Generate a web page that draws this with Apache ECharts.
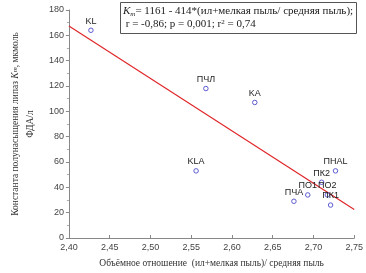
<!DOCTYPE html>
<html>
<head>
<meta charset="utf-8">
<script src="https://cdn.jsdelivr.net/npm/echarts@6/dist/echarts.min.js"></script>
<style>
  html, body { margin: 0; padding: 0; background: #fff; }
  #main { width: 366px; height: 273px; }
</style>
</head>
<body>
<div id="main"></div>
<script>
  // образцы: подписи и значения
  var names = ['KL', 'ПЧЛ', 'KA', 'KLA', 'ПЧА', 'ПО1', 'ПО2', 'ПК1', 'ПК2', 'ПНAL']
  var ratio = [2.427, 2.568, 2.628, 2.556, 2.676, 2.693, 2.717, 2.721, 2.710, 2.727]
  var km = [164, 118, 107, 53, 29, 34, 34, 26, 44, 53]
  // регрессия Km = 1161 - 414*x
  var intercept = 1161
  var slope = -414
  var lineX = [2.40, 2.75]

  var chart = echarts.init(document.getElementById('main'))

  var pts = names.map(function (n, i) {
    return { name: n, value: [ratio[i], km[i]] }
  })
  var fit = lineX.map(function (x) { return [x, intercept + slope * x] })

  var fmt = function (v) { return v.toFixed(2).replace('.', ',') }

  chart.setOption({
    animation: false,
    grid: { left: 52, right: 11, top: 10, bottom: 32 },
    title: {
      text: '{k|K}{s|m}= 1161 - 414*(ил+мелкая пыль/ средняя пыль);\n r = -0,86; p = 0,001; r{sup|2} = 0,74',
      left: 120,
      top: 2,
      padding: [3, 4, 3, 3],
      borderColor: '#555',
      borderWidth: 1,
      backgroundColor: '#fff',
      textStyle: {
        fontFamily: 'Liberation Serif',
        fontSize: 11,
        fontWeight: 'normal',
        color: '#222',
        lineHeight: 13,
        rich: {
          k: { fontFamily: 'Liberation Serif', fontStyle: 'italic', fontSize: 11, color: '#222' },
          s: { fontFamily: 'Liberation Serif', fontStyle: 'italic', fontSize: 7, color: '#222', verticalAlign: 'bottom', padding: [4, 0, 0, 0] },
          sup: { fontFamily: 'Liberation Serif', fontSize: 7, color: '#222', padding: [0, 0, 5, 0] }
        }
      }
    },
    xAxis: {
      type: 'value',
      min: 2.40,
      max: 2.75,
      interval: 0.05,
      name: 'Объёмное отношение  (ил+мелкая пыль)/ средняя пыль',
      nameLocation: 'middle',
      nameGap: 20,
      nameTextStyle: { fontFamily: 'Liberation Serif', fontSize: 9.5, color: '#333' },
      axisLine: { lineStyle: { color: '#888' } },
      axisTick: { show: true, length: 3, inside: true, lineStyle: { color: '#888' } },
      axisLabel: { formatter: fmt, fontFamily: 'Liberation Sans', fontSize: 9, color: '#444', margin: 5 },
      splitLine: { show: false }
    },
    yAxis: {
      type: 'value',
      min: 0,
      max: 180,
      interval: 20,
      name: 'Константа полунасыщения липаз {k|K}{s|m}, мкмоль\nФДА/л',
      nameLocation: 'middle',
      nameGap: 30,
      nameTextStyle: {
        fontFamily: 'Liberation Serif', fontSize: 9.5, color: '#333', lineHeight: 15,
        rich: {
          k: { fontFamily: 'Liberation Serif', fontStyle: 'italic', fontSize: 9.5, color: '#333' },
          s: { fontFamily: 'Liberation Serif', fontStyle: 'italic', fontSize: 7, color: '#333' }
        }
      },
      axisLine: { show: true, lineStyle: { color: '#888' } },
      axisTick: { show: true, length: 3, lineStyle: { color: '#888' } },
      minorTick: { show: true, splitNumber: 2, length: 2, lineStyle: { color: '#aaa' } },
      axisLabel: { fontFamily: 'Liberation Sans', fontSize: 9, color: '#444', margin: 5 },
      splitLine: { show: false }
    },
    series: [
      {
        type: 'line',
        data: fit,
        symbol: 'none',
        lineStyle: { color: '#e0262a', width: 1.2 },
        z: 1
      },
      {
        type: 'scatter',
        data: pts,
        symbol: 'circle',
        symbolSize: 4.5,
        itemStyle: { color: '#ffffff', borderColor: '#5a5ad0', borderWidth: 1, opacity: 1 },
        label: {
          show: true,
          position: 'top',
          distance: 2,
          formatter: '{b}',
          fontFamily: 'Liberation Sans',
          fontSize: 9,
          color: '#222'
        },
        labelLayout: { hideOverlap: false },
        z: 3
      }
    ]
  })
</script>
</body>
</html>
